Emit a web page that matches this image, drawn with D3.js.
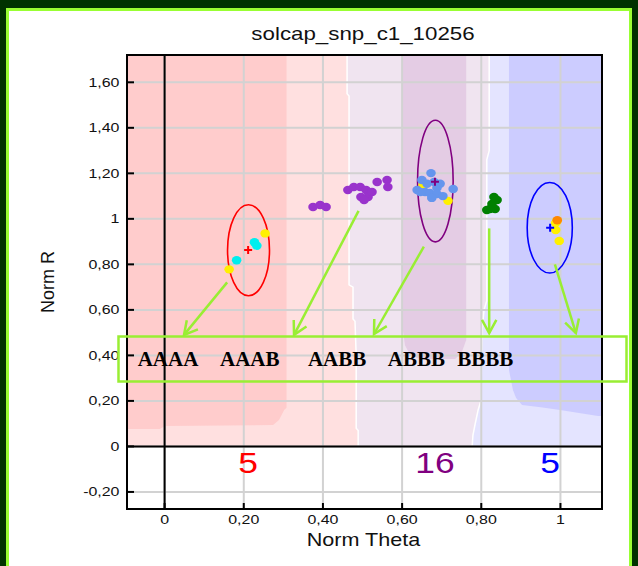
<!DOCTYPE html>
<html>
<head>
<meta charset="utf-8">
<script src="https://cdn.jsdelivr.net/npm/d3@7"></script>
<style>
  body { margin: 0; background: #003300; }
  text { font-family: "Liberation Sans", Arial, sans-serif; }
  text.geno { font-family: "Liberation Serif", "Times New Roman", serif; font-weight: bold; }
</style>
</head>
<body>
<script>
// ---- data (theta, R) ----
var xTicks = [0, 0.2, 0.4, 0.6, 0.8, 1];
var yTicks = [-0.2, 0, 0.2, 0.4, 0.6, 0.8, 1, 1.2, 1.4, 1.6];

var clusterCenter = [[0.211, 0.863], [0.683, 1.163], [0.974, 0.961]];
var clusterEllipse = [[0.212, 0.862, 0.053, 0.200], [0.684, 1.166, 0.045, 0.267], [0.973, 0.961, 0.057, 0.199]];
var clusterCount = [5, 16, 5];
var clusterColor = ["#ff0000", "#800080", "#0000ff"];

var yellowPts = [[0.254, 0.936], [0.163, 0.778], [0.653, 1.149], [0.716, 1.079],
                 [0.988, 0.951], [0.988, 0.982], [0.997, 0.903], [0.991, 0.990]];
var cyanPts = [[0.227, 0.897], [0.233, 0.882], [0.182, 0.818]];
var orangePts = [[0.992, 0.994]];
var cornflowerPts = [[0.673, 1.201], [0.650, 1.171], [0.663, 1.154], [0.638, 1.127], [0.658, 1.118],
                     [0.670, 1.114], [0.688, 1.136], [0.688, 1.109], [0.703, 1.100], [0.729, 1.131],
                     [0.681, 1.162], [0.646, 1.118], [0.675, 1.092], [0.696, 1.154]];
var orchidPts = [[0.375, 1.052], [0.393, 1.061], [0.408, 1.052], [0.463, 1.127], [0.478, 1.140],
                 [0.494, 1.140], [0.509, 1.127], [0.496, 1.096], [0.514, 1.096], [0.524, 1.118],
                 [0.537, 1.162], [0.562, 1.171], [0.564, 1.140], [0.504, 1.083]];
var greenPts = [[0.832, 1.096], [0.840, 1.083], [0.827, 1.065], [0.822, 1.043], [0.835, 1.043], [0.814, 1.039]];

// cluster region boundaries (theta, R), top to bottom
var edgeAaAb = [[0.461, 1.72], [0.461, 1.55], [0.466, 1.54], [0.466, 0.71], [0.476, 0.70], [0.476, 0.56],
                [0.481, 0.55], [0.484, 0.40], [0.484, 0.08], [0.489, 0.07], [0.489, 0]];
var edgeAbBb = [[0.820, 1.72], [0.820, 1.30], [0.814, 1.26], [0.814, 0.64], [0.807, 0.60], [0.802, 0.51],
                [0.799, 0.20], [0.792, 0.16], [0.784, 0.094], [0.779, 0.05], [0.777, 0]];
var coreAa = [[-0.095, 1.72], [0.308, 1.72], [0.308, 0.17], [0.302, 0.16], [0.289, 0.116], [0.274, 0.094],
              [0.001, 0.09], [-0.012, 0.077], [-0.095, 0.077]];
var coreAb = [[0.602, 1.72], [0.602, 0.512], [0.607, 0.446], [0.620, 0.402], [0.645, 0.384], [0.734, 0.384],
              [0.751, 0.415], [0.762, 0.468], [0.762, 1.72]];
var coreBb = [[0.870, 1.72], [0.870, 0.336], [0.880, 0.248], [0.888, 0.213], [0.903, 0.182], [0.950, 0.172],
              [0.999, 0.160], [1.095, 0.134], [1.105, 0.134], [1.105, 1.72]];

var genoLabels = ["AAAA", "AAAB", "AABB", "ABBB", "BBBB"];
var genoTheta = [-0.068, 0.140, 0.362, 0.564, 0.739];
var arrows = [[0.158, 0.721, 0.049, 0.490], [0.490, 1.035, 0.327, 0.490], [0.655, 0.878, 0.529, 0.494],
              [0.820, 0.958, 0.820, 0.498], [0.986, 0.800, 1.039, 0.498]];

// ---- layout ----
var width = 638, height = 566;
var x = d3.scaleLinear().domain([-0.095, 1.105]).range([127, 602]);
var y = d3.scaleLinear().domain([-0.275, 1.72]).range([509, 55]);
var annGreen = "#99ee33";

var svg = d3.select("body").append("svg")
    .attr("width", width)
    .attr("height", height);

// outer frame
svg.append("rect").attr("width", width).attr("height", height).attr("fill", "#003300");
svg.append("rect")
    .attr("x", 7.5).attr("y", 9.5).attr("width", 623).attr("height", 580)
    .attr("fill", "#fff").attr("stroke", "#99ff33").attr("stroke-width", 3);

svg.append("clipPath").attr("id", "plot")
    .append("rect").attr("x", 127).attr("y", 55).attr("width", 475).attr("height", 454);

var plot = svg.append("g").attr("clip-path", "url(#plot)");
var poly = d3.line().x(function (d) { return x(d[0]); }).y(function (d) { return y(d[1]); });

// region shading
var pinkArea = [[-0.095, 1.72]].concat(edgeAaAb, [[-0.095, 0]]);
var lavArea = edgeAaAb.concat(edgeAbBb.slice().reverse());
var blueArea = edgeAbBb.concat([[1.105, 0], [1.105, 1.72]]);
plot.append("path").attr("d", poly(pinkArea) + "Z").attr("fill", "#ffe0e0");
plot.append("path").attr("d", poly(lavArea) + "Z").attr("fill", "#f0e4f0");
plot.append("path").attr("d", poly(blueArea) + "Z").attr("fill", "#e4e4ff");
plot.append("path").attr("d", poly(coreAa) + "Z").attr("fill", "#ffcccc");
plot.append("path").attr("d", poly(coreAb) + "Z").attr("fill", "#e4cce4");
plot.append("path").attr("d", poly(coreBb) + "Z").attr("fill", "#ccccff");
[edgeAaAb, edgeAbBb].forEach(function (e) {
    plot.append("path").attr("d", poly(e)).attr("fill", "none").attr("stroke", "#fff").attr("stroke-width", 1.5);
});

// grid lines
plot.append("g").selectAll("line").data(xTicks).join("line")
    .attr("x1", x).attr("x2", x).attr("y1", 55).attr("y2", 509)
    .attr("stroke", "#d2d2d2").attr("stroke-width", 2);
plot.append("g").selectAll("line").data(yTicks).join("line")
    .attr("y1", y).attr("y2", y).attr("x1", 127).attr("x2", 602)
    .attr("stroke", "#d2d2d2").attr("stroke-width", 2);

// zero lines
plot.append("line").attr("x1", x(0)).attr("x2", x(0)).attr("y1", 55).attr("y2", 509)
    .attr("stroke", "#000").attr("stroke-width", 2);
plot.append("line").attr("y1", y(0)).attr("y2", y(0)).attr("x1", 127).attr("x2", 602)
    .attr("stroke", "#000").attr("stroke-width", 2);

// ellipses
plot.selectAll(".ell").data(clusterEllipse).join("ellipse")
    .attr("cx", function (d) { return x(d[0]); })
    .attr("cy", function (d) { return y(d[1]); })
    .attr("rx", function (d) { return x(d[0] + d[2]) - x(d[0]); })
    .attr("ry", function (d) { return y(d[1]) - y(d[1] + d[3]); })
    .attr("fill", "none")
    .attr("stroke", function (d, i) { return clusterColor[i]; })
    .attr("stroke-width", 1.6);

function dots(pts, color) {
    plot.append("g").selectAll("ellipse").data(pts).join("ellipse")
        .attr("cx", function (d) { return x(d[0]); })
        .attr("cy", function (d) { return y(d[1]); })
        .attr("rx", 4.8).attr("ry", 4.2)
        .attr("fill", color);
}
dots(yellowPts, "#fff000");
dots(cyanPts, "#00eeee");
dots(orangePts, "#ff8800");
dots(cornflowerPts, "#6495ed");
dots(orchidPts, "#9933cc");
dots(greenPts, "#008000");

// cluster means
plot.selectAll(".plus").data(clusterCenter).join("path")
    .attr("d", function (d) {
        var cx = x(d[0]), cy = y(d[1]);
        return "M" + (cx - 4) + "," + cy + "H" + (cx + 4) + "M" + cx + "," + (cy - 4) + "V" + (cy + 4);
    })
    .attr("stroke", function (d, i) { return clusterColor[i]; })
    .attr("stroke-width", 2);

// counts
svg.selectAll(".count").data(clusterCount).join("text")
    .attr("transform", function (d, i) { return "translate(" + x(clusterCenter[i][0]) + ",473) scale(1.18,1)"; })
    .attr("text-anchor", "middle")
    .attr("font-size", 30)
    .attr("fill", function (d, i) { return clusterColor[i]; })
    .text(function (d) { return d; });

// plot frame and inward ticks
svg.append("rect").attr("x", 127).attr("y", 55).attr("width", 475).attr("height", 454)
    .attr("fill", "none").attr("stroke", "#000").attr("stroke-width", 2);
svg.append("g").selectAll("line").data(xTicks).join("line")
    .attr("x1", x).attr("x2", x).attr("y1", 509).attr("y2", 503)
    .attr("stroke", "#000").attr("stroke-width", 2);
svg.append("g").selectAll("line").data(yTicks).join("line")
    .attr("y1", y).attr("y2", y).attr("x1", 127).attr("x2", 134)
    .attr("stroke", "#000").attr("stroke-width", 2);

function fmt(v) {
    if (v === 0) return "0";
    if (v === 1) return "1";
    return v.toFixed(2).replace(".", ",");
}
svg.append("g").selectAll("text").data(xTicks).join("text")
    .attr("transform", function (d) { return "translate(" + x(d) + ",523.5) scale(1.33,1)"; })
    .attr("text-anchor", "middle").attr("font-size", 12).attr("fill", "#111")
    .text(fmt);
svg.append("g").selectAll("text").data(yTicks).join("text")
    .attr("transform", function (d) { return "translate(119.5," + (y(d) + 4.3) + ") scale(1.33,1)"; })
    .attr("text-anchor", "end").attr("font-size", 12).attr("fill", "#111")
    .text(fmt);

// titles
svg.append("text")
    .attr("transform", "translate(363,39.5) scale(1.24,1)")
    .attr("text-anchor", "middle").attr("font-size", 18).attr("fill", "#111")
    .text("solcap_snp_c1_10256");
svg.append("text")
    .attr("transform", "translate(363.5,545.7) scale(1.2,1)")
    .attr("text-anchor", "middle").attr("font-size", 18).attr("fill", "#111")
    .text("Norm Theta");
svg.append("text")
    .attr("transform", "translate(54,282) rotate(-90)")
    .attr("text-anchor", "middle").attr("font-size", 18).attr("fill", "#111")
    .text("Norm R");

// annotation: arrows, box, genotype labels
var ann = svg.append("g");
arrows.forEach(function (a) {
    var x1 = x(a[0]), y1 = y(a[1]), x2 = x(a[2]), y2 = y(a[3]);
    var ang = Math.atan2(y2 - y1, x2 - x1) + Math.PI, len = 15, sp = 0.5;
    ann.append("line").attr("x1", x1).attr("y1", y1).attr("x2", x2).attr("y2", y2)
        .attr("stroke", annGreen).attr("stroke-width", 2.5);
    ann.append("path")
        .attr("d", "M" + (x2 + len * Math.cos(ang - sp)) + "," + (y2 + len * Math.sin(ang - sp)) +
            "L" + x2 + "," + y2 +
            "L" + (x2 + len * Math.cos(ang + sp)) + "," + (y2 + len * Math.sin(ang + sp)))
        .attr("fill", "none").attr("stroke", annGreen).attr("stroke-width", 2.5);
});
ann.append("rect").attr("x", 118.5).attr("y", 336.5).attr("width", 508).attr("height", 45)
    .attr("fill", "none").attr("stroke", annGreen).attr("stroke-width", 2.5);
ann.selectAll(".geno").data(genoLabels).join("text")
    .attr("class", "geno")
    .attr("x", function (d, i) { return x(genoTheta[i]); })
    .attr("y", 365.7)
    .attr("font-size", 21).attr("fill", "#000")
    .text(function (d) { return d; });
</script>
</body>
</html>
